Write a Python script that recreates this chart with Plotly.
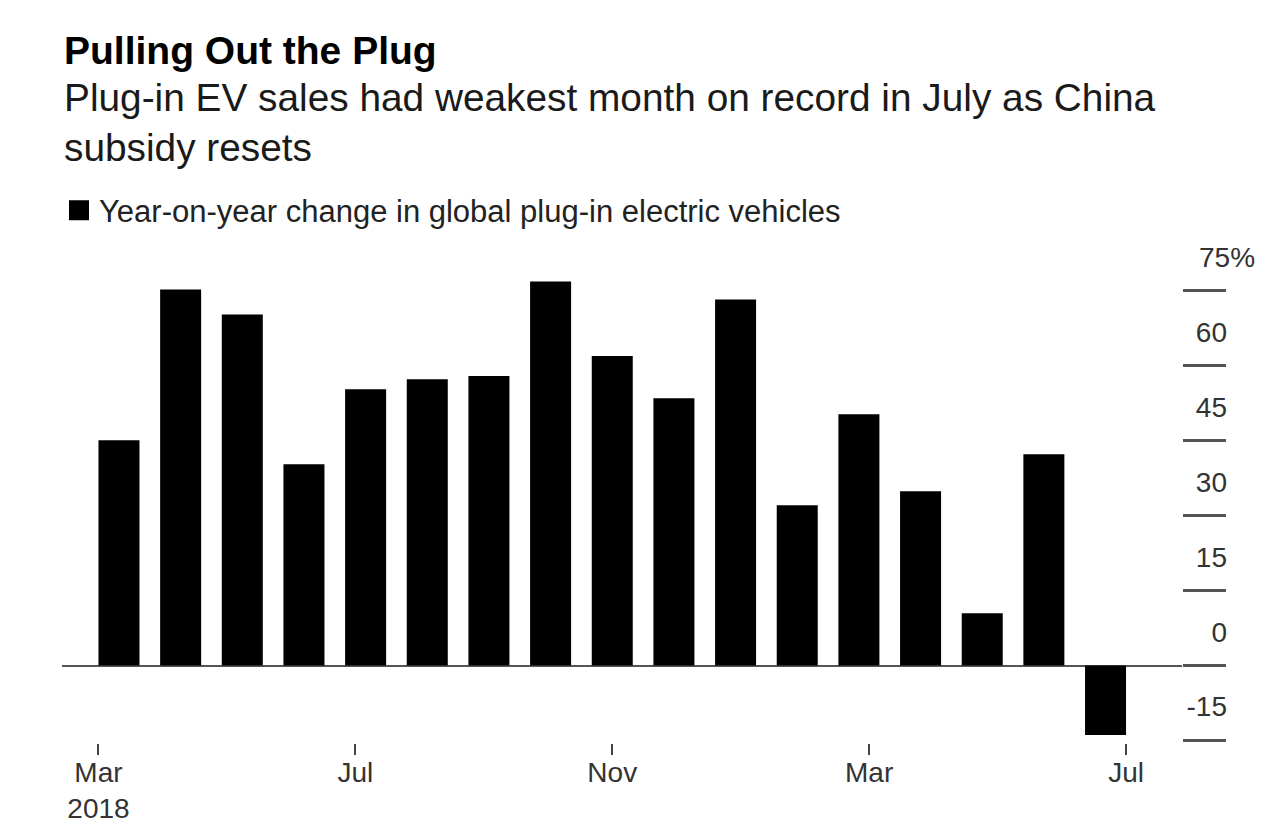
import plotly.graph_objects as go

# ---- data ----
months = ["Mar 2018", "Apr 2018", "May 2018", "Jun 2018", "Jul 2018", "Aug 2018",
          "Sep 2018", "Oct 2018", "Nov 2018", "Dec 2018", "Jan 2019", "Feb 2019",
          "Mar 2019", "Apr 2019", "May 2019", "Jun 2019", "Jul 2019"]
yoy_change = [45.1, 75.3, 70.3, 40.3, 55.3, 57.3, 58.0, 76.9, 62.0, 53.5,
              73.3, 32.1, 50.3, 34.9, 10.5, 42.3, -13.9]
x_tick_labels = ["Mar<br>2018", "Jul", "Nov", "Mar", "Jul"]
y_tick_values = [-15, 0, 15, 30, 45, 60, 75]
y_tick_labels = ["-15", "0", "15", "30", "45", "60", ""]
series_name = "Year-on-year change in global plug-in electric vehicles"

FONT = "Liberation Sans, Arial, Helvetica, sans-serif"
OFF = 8                      # default page body margin
W, H = 1284 - OFF, 837 - 2 * OFF
L, T = 62 - OFF, 256 - OFF
R = 102
B = H - (743 - OFF)
plot_w = W - L - R
plot_h = H - T - B

bargap = 0.335
bar_w = 1 - bargap
idx = list(range(len(months)))
first_edge = idx[0] - bar_w / 2
last_edge = idx[-1] + bar_w / 2
n_ticks = len(x_tick_labels)
tickvals = [first_edge + k * (last_edge - first_edge) / (n_ticks - 1) for k in range(n_ticks)]


def py(screen_y):
    return (H - B - (screen_y - OFF)) / plot_h


def px(screen_x):
    return (screen_x - OFF - L) / plot_w


fig = go.Figure()
fig.add_trace(go.Bar(x=idx, y=yoy_change, marker=dict(color="#000000", line=dict(width=0)),
                     showlegend=False, hovertext=months, name=series_name))
# legend entry (square swatch)
fig.add_trace(go.Scatter(x=[None], y=[None], mode="markers", name=series_name,
                         marker=dict(symbol="square", size=16, color="#000000",
                                     line=dict(color="#000000", width=4)),
                         showlegend=True))

fig.update_layout(
    width=W, height=H,
    margin=dict(l=L, r=R, t=T, b=B, autoexpand=False),
    paper_bgcolor="white", plot_bgcolor="white",
    font=dict(family=FONT, color="#222222"),
    bargap=bargap,
    showlegend=True,
    legend=dict(x=px(59), xanchor="left", y=py(210.5), yanchor="middle",
                font=dict(size=31, color="#222222", family=FONT),
                bgcolor="rgba(0,0,0,0)", borderwidth=0),
    xaxis=dict(range=[-0.924, 17.24], tickmode="array", tickvals=tickvals,
               ticktext=x_tick_labels, ticks="outside", ticklen=11, tickwidth=2,
               tickcolor="#444444", showgrid=False, zeroline=False, showline=False,
               ticklabelstandoff=-7, automargin=False,
               tickfont=dict(size=28, color="#333333", family=FONT)),
    yaxis=dict(range=[-15.5, 82], side="right", tickmode="array",
               tickvals=y_tick_values, ticktext=y_tick_labels,
               ticks="outside", ticklen=43, tickwidth=2.5, tickcolor="#555555",
               ticklabelposition="inside top", ticklabelstandoff=-48,
               ticklabelshift=-13, automargin=False,
               showgrid=False, showline=False,
               zeroline=True, zerolinecolor="#555555", zerolinewidth=1.5,
               tickfont=dict(size=28, color="#333333", family=FONT)),
)

fig.add_annotation(text="<b>Pulling Out the Plug</b>", xref="paper", yref="paper",
                   x=0, y=py(50.5), xanchor="left", yanchor="middle", showarrow=False,
                   font=dict(size=39, color="#000000", family=FONT))
fig.add_annotation(text="Plug-in EV sales had weakest month on record in July as China<br>subsidy resets",
                   xref="paper", yref="paper", x=0, y=py(122), xanchor="left",
                   yanchor="middle", align="left", showarrow=False,
                   font=dict(size=38.8, color="#1a1a1a", family=FONT))
fig.add_annotation(text="75%", xref="paper", yref="y", x=px(1197), y=75,
                   xanchor="left", yanchor="bottom", yshift=16, showarrow=False,
                   font=dict(size=28, color="#333333", family=FONT))

fig.add_shape(type="line", xref="paper", yref="paper",
              x0=px(1281), x1=px(1281), y0=py(837), y1=py(0),
              line=dict(color="#cccccc", width=1.5))

fig.write_html("out.html")
